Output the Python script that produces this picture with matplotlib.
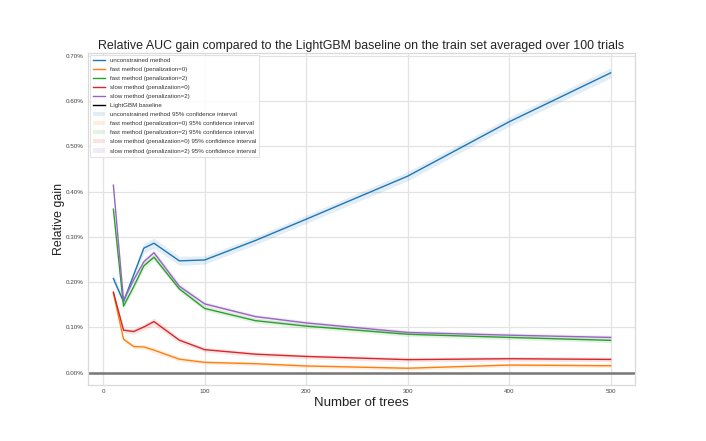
import matplotlib
matplotlib.use("Agg")
import matplotlib.pyplot as plt
from matplotlib.ticker import FuncFormatter

# ---- data (relative gain in percent) ----
n_trees = [10, 20, 30, 40, 50, 75, 100, 150, 200, 300, 400, 500]
unconstrained = [0.208, 0.157, 0.216, 0.275, 0.286, 0.247, 0.249, 0.292, 0.339, 0.434, 0.554, 0.662]
fast_pen0 = [0.176, 0.074, 0.058, 0.057, 0.050, 0.030, 0.023, 0.020, 0.015, 0.010, 0.017, 0.0155]
fast_pen2 = [0.361, 0.147, 0.190, 0.236, 0.255, 0.185, 0.142, 0.115, 0.103, 0.085, 0.078, 0.0715]
slow_pen0 = [0.178, 0.094, 0.091, 0.101, 0.113, 0.072, 0.051, 0.041, 0.036, 0.029, 0.031, 0.0295]
slow_pen2 = [0.414, 0.160, 0.205, 0.245, 0.265, 0.191, 0.152, 0.124, 0.110, 0.089, 0.083, 0.078]

# 95% confidence interval half-widths (percent)
ci_unconstrained = [0.009, 0.008, 0.009, 0.011, 0.011, 0.010, 0.009, 0.009, 0.009, 0.010, 0.010, 0.011]
ci_fast_pen0 = [0.006, 0.005, 0.005, 0.005, 0.006, 0.005, 0.004, 0.004, 0.004, 0.004, 0.004, 0.004]
ci_fast_pen2 = [0.006, 0.005, 0.006, 0.007, 0.007, 0.006, 0.005, 0.005, 0.005, 0.005, 0.005, 0.005]
ci_slow_pen0 = [0.006, 0.005, 0.006, 0.007, 0.008, 0.006, 0.005, 0.005, 0.005, 0.005, 0.005, 0.005]
ci_slow_pen2 = [0.006, 0.005, 0.006, 0.007, 0.007, 0.006, 0.005, 0.005, 0.005, 0.005, 0.005, 0.005]

labels = ["unconstrained method",
          "fast method (penalization=0)",
          "fast method (penalization=2)",
          "slow method (penalization=0)",
          "slow method (penalization=2)"]
series = [unconstrained, fast_pen0, fast_pen2, slow_pen0, slow_pen2]
cis = [ci_unconstrained, ci_fast_pen0, ci_fast_pen2, ci_slow_pen0, ci_slow_pen2]
colors = ["#1f77b4", "#ff7f0e", "#2ca02c", "#d62728", "#9467bd"]

plt.rcParams['font.family'] = ['Liberation Sans', 'DejaVu Sans']

fig = plt.figure(figsize=(7.06, 4.41), dpi=100)
ax = fig.add_axes([88/706, 1-385/441, (635-88)/706, (385-52.7)/441])
ax.set_facecolor("white")
for s in ax.spines.values():
    s.set_color("#d9d9d9")
    s.set_linewidth(0.9)
ax.grid(True, color="#e3e3e3", linewidth=0.9)
ax.set_axisbelow(True)

for y, lab, c in zip(series, labels, colors):
    ax.plot(n_trees, y, color=c, lw=1.0, label=lab)
base = ax.axhline(0, color="#777777", lw=1.8, label="LightGBM baseline")
for y, ci, lab, c in zip(series, cis, labels, colors):
    lo = [v - d for v, d in zip(y, ci)]
    hi = [v + d for v, d in zip(y, ci)]
    ax.fill_between(n_trees, lo, hi, color=c, alpha=0.13, lw=0,
                    label=lab + " 95% confidence interval")

ax.set_xlim(-15, 524)
ax.set_ylim(-0.027, 0.7065)
ax.set_xticks([0, 100, 200, 300, 400, 500])
ax.set_yticks([0.0, 0.1, 0.2, 0.3, 0.4, 0.5, 0.6, 0.7])
ax.yaxis.set_major_formatter(FuncFormatter(lambda v, p: f"{v:.2f}%"))
ax.tick_params(axis='both', length=0, labelsize=4.5, colors="#444444", pad=3)

ax.set_title("Relative AUC gain compared to the LightGBM baseline on the train set averaged over 100 trials",
             fontsize=8.9, color="#222222", pad=3)
ax.set_xlabel("Number of trees", fontsize=9.5, color="#222222", labelpad=2)
ax.set_ylabel("Relative gain", fontsize=8.9, color="#222222", labelpad=0.5)

leg = ax.legend(loc="upper left", fontsize=4.4, frameon=True, framealpha=0.9,
                edgecolor="#d9d9d9", borderpad=0.5, labelspacing=0.62,
                handlelength=2.0, borderaxespad=0.3, fancybox=False)
leg.get_frame().set_linewidth(0.6)
for t in leg.get_texts():
    t.set_color("#333333")
h = leg.legend_handles[5]
h.set_color("black")
h.set_linewidth(1.0)

fig.savefig("out.png", dpi=100, facecolor="white")
